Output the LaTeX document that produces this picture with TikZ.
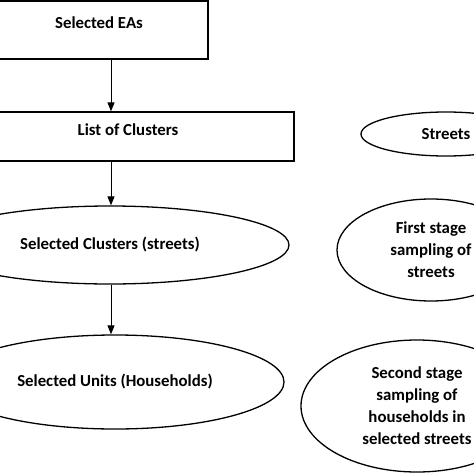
\documentclass[tikz,border=0pt]{standalone}
\usepackage{fontspec}
\setmainfont{Carlito}
\usetikzlibrary{shapes.geometric,positioning,arrows.meta}
\newcommand{\stagefont}{\fontsize{16.8pt}{22pt}\selectfont\bfseries}

\tikzset{
  stage/.style={draw, line width=1.3pt, inner sep=0pt, font=\stagefont, align=center},
  box/.style={stage, rectangle, text depth=14pt},
  oval/.style={stage, ellipse},
  flow/.style={-{Triangle[length=9pt,width=7pt]}, line width=0.9pt}
}

\begin{document}
\begin{tikzpicture}[x=1pt,y=-1pt]
  \useasboundingbox (0,0) rectangle (474,474);
  \clip (0,0) rectangle (474,474);

  % left column: the sampling steps
  \node[box, minimum width=218pt, minimum height=58pt] (eas) at (99,30) {Selected EAs};
  \node[box, minimum width=332pt, minimum height=49pt] (lists) at (128,136.5) {List of Clusters};
  \node[oval, minimum width=358pt, minimum height=78pt] (clus) at (110,245) {Selected Clusters (streets)};
  \node[oval, minimum width=338pt, minimum height=94pt] (units) at (115,382) {Selected Units (Households)};

  % right column: what each step means
  \node[oval, minimum width=170pt, minimum height=44pt] (streets) at (446,134) {Streets};
  \node[oval, minimum width=188pt, minimum height=102pt] (first) at (431,250) {First stage\\sampling of\\streets};
  \node[oval, minimum width=232pt, minimum height=132pt] (second) at (417,406) {Second stage\\sampling of\\households in\\selected streets};

  \coordinate (axis) at (111,0);
  \draw[flow] (eas.south -| axis) -- (lists.north -| axis);
  \draw[flow] (lists.south -| axis) -- (clus.north -| axis);
  \draw[flow] (clus.south -| axis) -- (units.north -| axis);
\end{tikzpicture}
\end{document}
